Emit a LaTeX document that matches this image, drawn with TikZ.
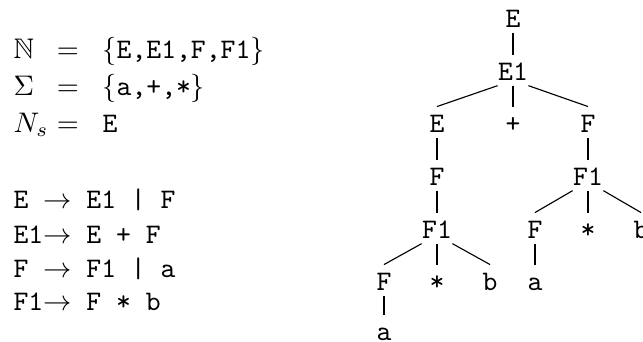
\documentclass[tikz,border=0pt]{standalone}
\usepackage{amssymb}
\begin{document}
\begin{tikzpicture}[x=0.3534pt,y=-0.3534pt,
  tn/.style={inner sep=0pt, text height=8.8pt, text depth=1.8pt, anchor=base, font=\ttfamily},
  txt/.style={inner sep=0pt, anchor=base west},
  eq/.style={inner sep=0pt, anchor=base},
  edge/.style={line width=0.4pt}]
\useasboundingbox (0,0) rectangle (643,341);
% definitions
\node[txt] (n1) at (13,58) {$\mathbb{N}$};
\node[eq]  (q1) at (68,58) {$=$};
\node[txt] (v1) at (102,58) {$\{\texttt{E,E1,F,F1}\}$};
\node[txt] (n2) at (13,95) {$\Sigma$};
\node[eq]  (q2) at (68,95) {$=$};
\node[txt] (v2) at (102,95) {$\{\texttt{a,+,*}\}$};
\node[txt] (n3) at (13,132) {$N_s$};
\node[eq]  (q3) at (68,132) {$=$};
\node[txt] (v3) at (102,132) {\texttt{E}};
% grammar
\node[txt] (g1) at (13,208) {\texttt{E~}$\rightarrow$\texttt{~E1~|~F}};
\node[txt] (g2) at (13,243) {\texttt{E1}$\rightarrow$\texttt{~E~+~F}};
\node[txt] (g3) at (13,277) {\texttt{F~}$\rightarrow$\texttt{~F1~|~a}};
\node[txt] (g4) at (13,310) {\texttt{F1}$\rightarrow$\texttt{~F~*~b}};
% tree
\node[tn] (r) at (513,27) {E};
\node[tn] (e1) at (513,80) {E1};
\node[tn] (le) at (437,132) {E};
\node[tn] (plus) at (513,132) {+};
\node[tn] (rf) at (588,132) {F};
\node[tn] (lf) at (437,185) {F};
\node[tn] (rf1) at (588,185) {F1};
\node[tn] (lf1) at (437,238) {F1};
\node[tn] (rff) at (535,238) {F};
\node[tn] (rst) at (588,238) {*};
\node[tn] (rb) at (641,238) {b};
\node[tn] (lff) at (384,290) {F};
\node[tn] (lst) at (437,290) {*};
\node[tn] (lb) at (490,290) {b};
\node[tn] (ra) at (535,290) {a};
\node[tn] (la) at (384,340) {a};
\draw[edge] (r.south) -- (e1.north);
\draw[edge] (e1.south west) -- (le.north);
\draw[edge] (e1.south) -- (plus.north);
\draw[edge] (e1.south east) -- (rf.north);
\draw[edge] (le.south) -- (lf.north);
\draw[edge] (lf.south) -- (lf1.north);
\draw[edge] (rf.south) -- (rf1.north);
\draw[edge] (lf1.south west) -- (lff.north);
\draw[edge] (lf1.south) -- (lst.north);
\draw[edge] (lf1.south east) -- (lb.north);
\draw[edge] (rf1.south west) -- (rff.north);
\draw[edge] (rf1.south) -- (rst.north);
\draw[edge] (rf1.south east) -- (rb.north);
\draw[edge] (lff.south) -- (la.north);
\draw[edge] (rff.south) -- (ra.north);
\end{tikzpicture}
\end{document}
